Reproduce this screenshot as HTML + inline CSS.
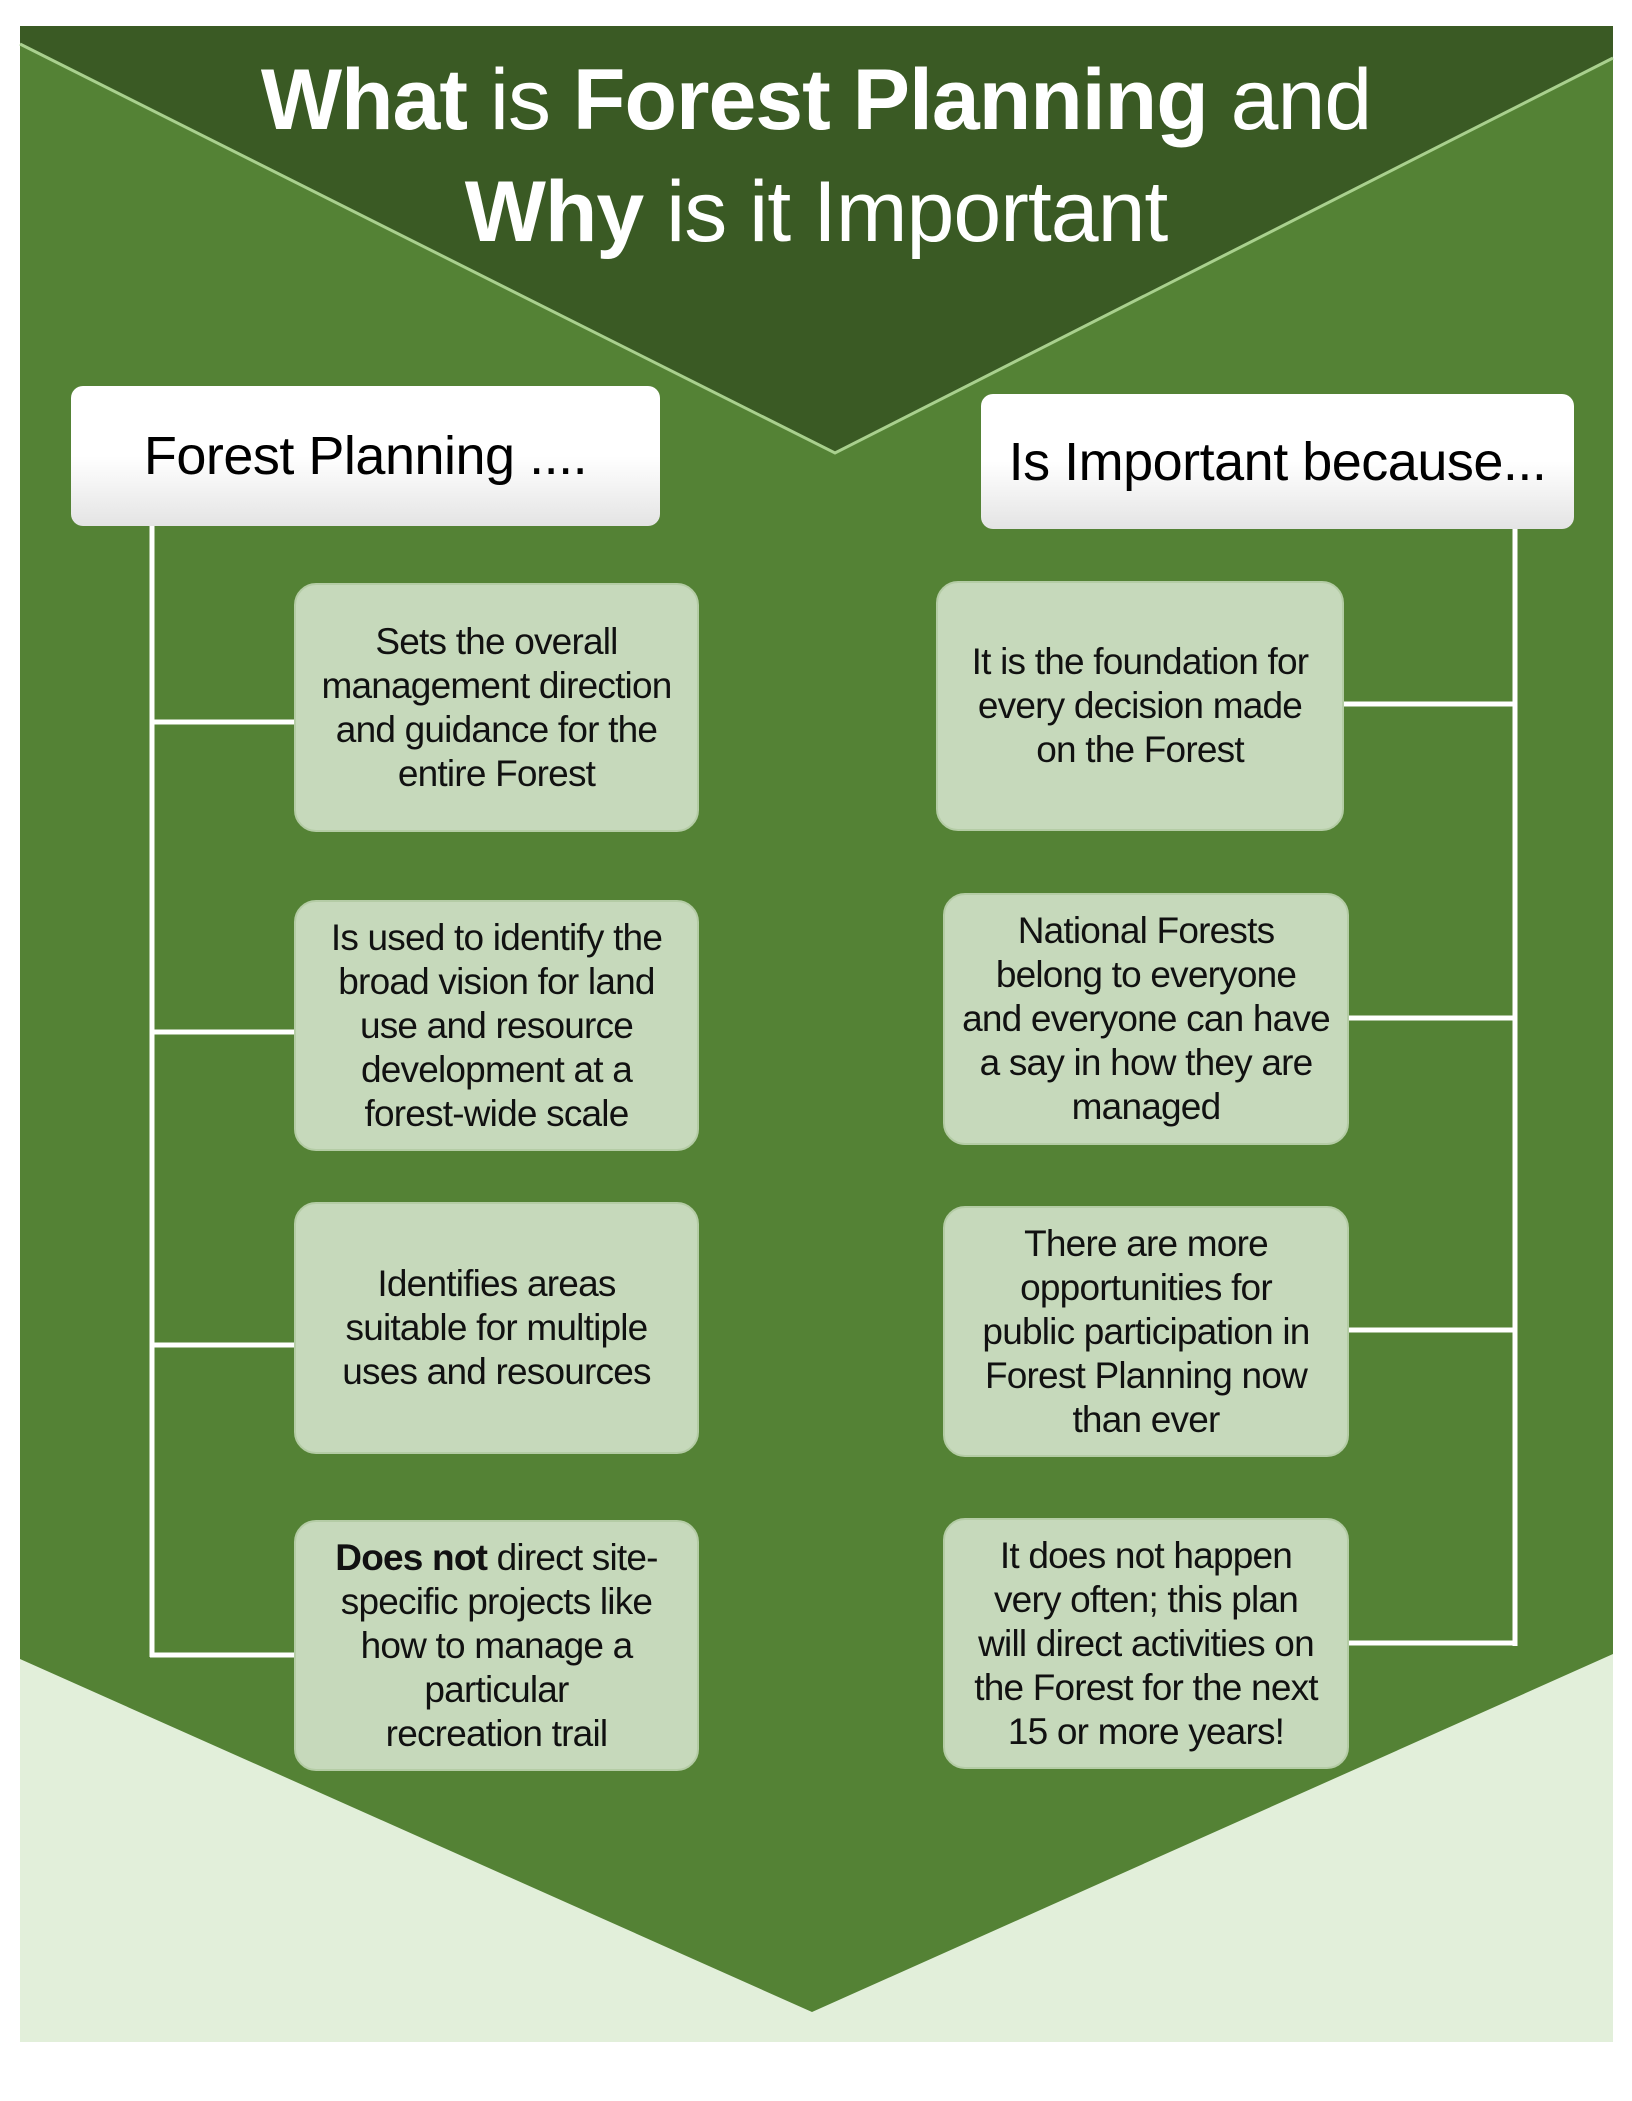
<!DOCTYPE html>
<html><head><meta charset="utf-8"><style>
html,body{margin:0;padding:0;background:#fff}
#c{position:relative;width:1632px;height:2101px;overflow:hidden;font-family:"Liberation Sans",sans-serif}
.b{position:absolute;background:#c6d9bb;border-radius:22px;border:2px solid #b4cca5;box-sizing:border-box;display:flex;align-items:center;justify-content:center;text-align:center;font-size:37px;line-height:44px;color:#111;letter-spacing:-0.8px;white-space:nowrap}
.h{position:absolute;background:linear-gradient(#ffffff 50%,#e4e4e4);border-radius:12px;display:flex;align-items:center;justify-content:center;font-size:54px;color:#000;letter-spacing:-0.5px}
.t{position:absolute;left:0;width:1632px;text-align:center;color:#fff;font-size:86px;letter-spacing:-1px;white-space:nowrap}
</style></head><body><div id="c">
<svg width="1632" height="2101" style="position:absolute;left:0;top:0">
<rect x="20" y="26" width="1593" height="2016" fill="#548235"/>
<polygon points="20,26 1613,26 1613,58 835,453 20,44" fill="#3a5a24"/>
<polyline points="20,44 835,453 1613,58" fill="none" stroke="#a9d08e" stroke-width="3"/>
<polygon points="20,1659 812,2012 1613,1654 1613,2042 20,2042" fill="#e2efda"/>
<g stroke="#fff" stroke-width="5" fill="none">
<line x1="152" y1="526" x2="152" y2="1657"/>
<line x1="150" y1="722" x2="296" y2="722"/>
<line x1="150" y1="1032" x2="296" y2="1032"/>
<line x1="150" y1="1345" x2="296" y2="1345"/>
<line x1="150" y1="1655" x2="296" y2="1655"/>
<line x1="1515" y1="529" x2="1515" y2="1646"/>
<line x1="1342" y1="704" x2="1517" y2="704"/>
<line x1="1347" y1="1018" x2="1517" y2="1018"/>
<line x1="1347" y1="1330" x2="1517" y2="1330"/>
<line x1="1347" y1="1643" x2="1517" y2="1643"/>
</g>
</svg>
<div class="t" style="top:50px;line-height:100px"><b>What</b> is <b>Forest Planning</b> and</div>
<div class="t" style="top:162px;line-height:100px"><b>Why</b> is it Important</div>
<div class="h" style="left:71px;top:386px;width:589px;height:140px">Forest Planning ....</div>
<div class="h" style="left:981px;top:394px;width:593px;height:135px">Is Important because...</div>
<div class="b" style="left:294px;top:583px;width:405px;height:249px">Sets the overall<br>management direction<br>and guidance for the<br>entire Forest</div>
<div class="b" style="left:294px;top:900px;width:405px;height:251px">Is used to identify the<br>broad vision for land<br>use and resource<br>development at a<br>forest-wide scale</div>
<div class="b" style="left:294px;top:1202px;width:405px;height:252px">Identifies areas<br>suitable for multiple<br>uses and resources</div>
<div class="b" style="left:294px;top:1520px;width:405px;height:251px"><span><b>Does not</b> direct site-<br>specific projects like<br>how to manage a<br>particular<br>recreation trail</span></div>
<div class="b" style="left:936px;top:581px;width:408px;height:250px">It is the foundation for<br>every decision made<br>on the Forest</div>
<div class="b" style="left:943px;top:893px;width:406px;height:252px">National Forests<br>belong to everyone<br>and everyone can have<br>a say in how they are<br>managed</div>
<div class="b" style="left:943px;top:1206px;width:406px;height:251px">There are more<br>opportunities for<br>public participation in<br>Forest Planning now<br>than ever</div>
<div class="b" style="left:943px;top:1518px;width:406px;height:251px">It does not happen<br>very often; this plan<br>will direct activities on<br>the Forest for the next<br>15 or more years!</div>
</div></body></html>
